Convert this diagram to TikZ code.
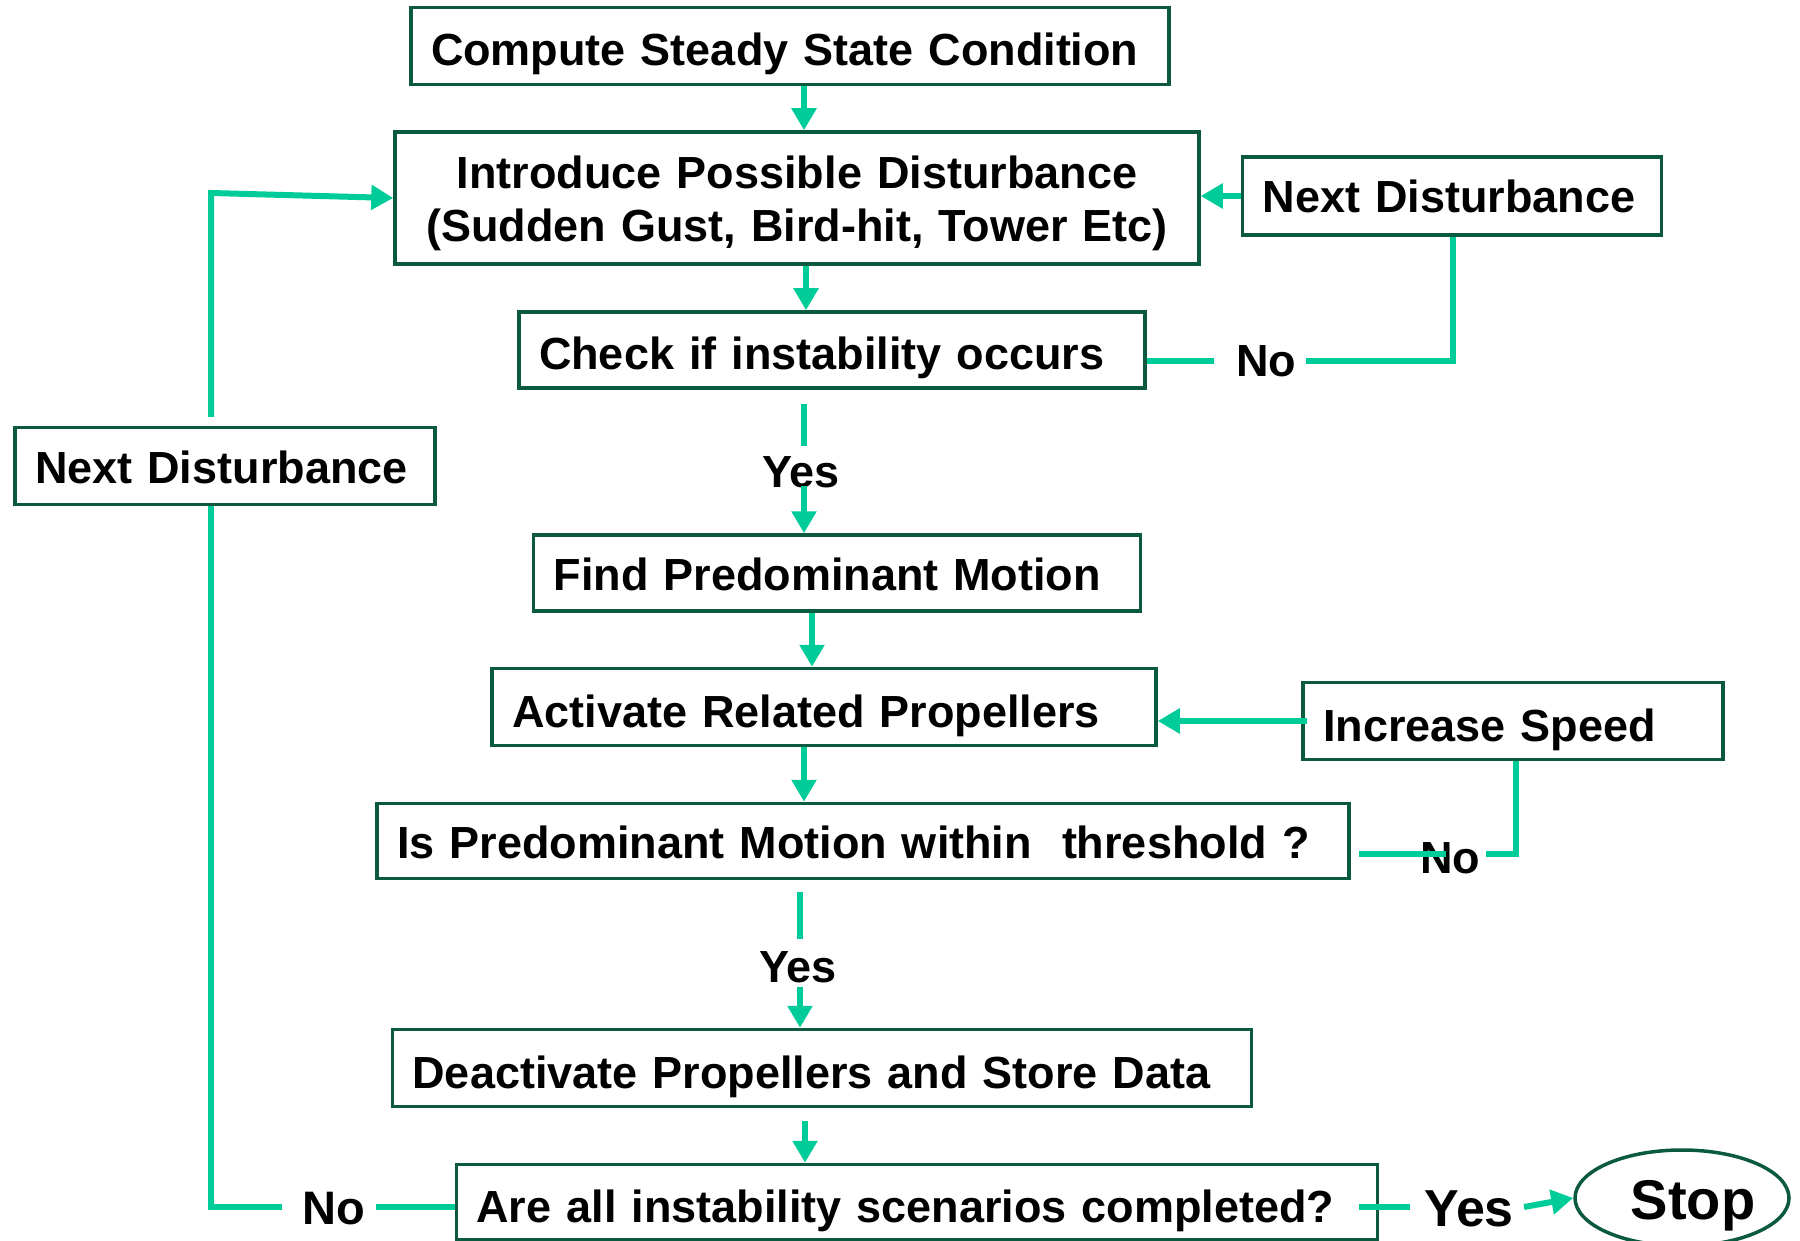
\documentclass[tikz,border=0pt]{standalone}
\usepackage{fontspec}
\setmainfont{Liberation Sans}
\usetikzlibrary{arrows.meta,shapes.geometric}
\definecolor{boxc}{HTML}{0B5A40}
\definecolor{arrc}{HTML}{00CC99}
\begin{document}
\begin{tikzpicture}[x=1pt,y=-1pt,
  box/.style={draw=boxc, line width=3.5pt, inner xsep=20pt, inner ysep=0pt, align=left,
    font=\fontsize{45}{53}\selectfont\bfseries, fill=white},
  tlow/.style={text height=44pt, text depth=4pt},
  tmid/.style={text height=40pt, text depth=6pt},
  lbl/.style={font=\fontsize{45}{52}\selectfont\bfseries, inner sep=0pt},
  conn/.style={draw=arrc, line width=6pt},
  arr/.style={conn, -{Triangle[length=22pt,width=24pt]}},
]
\useasboundingbox (0,0) rectangle (1800,1241);

% boxes
\node[box, tlow, text width=718pt, minimum height=77pt] (compute) at (790,46) {Compute Steady State Condition};
\node[box, text width=764pt, minimum height=132pt, align=center] (intro) at (797,198) {\rule{0pt}{43pt}Introduce Possible Disturbance\\(Sudden Gust, Bird-hit, Tower Etc)};
\node[box, tmid, text width=379pt, minimum height=78pt] (ndr) at (1452,196) {Next Disturbance};
\node[box, tlow, text width=586pt, minimum height=76pt] (check) at (832,350) {Check if instability occurs};
\node[box, tmid, text width=380pt, minimum height=77pt] (ndl) at (225,466) {Next Disturbance};
\node[box, tmid, text width=567pt, minimum height=76pt] (find) at (837,573) {Find Predominant Motion};
\node[box, tlow, text width=624pt, minimum height=77pt] (activate) at (824,707) {Activate Related Propellers};
\node[box, tlow, text width=380pt, minimum height=77pt] (incr) at (1513,721) {Increase Speed};
\node[box, tmid, text width=932pt, minimum height=75pt] (ispm) at (863,841) {Is Predominant Motion within \ threshold ?};
\node[box, tlow, text width=819pt, minimum height=77pt] (deact) at (822,1068) {Deactivate Propellers and Store Data};
\node[box, tlow, text width=881pt, minimum height=75pt] (areall) at (917,1202) {Are all instability scenarios completed?};
\node[draw=boxc, line width=3.5pt, ellipse, minimum width=214pt, minimum height=96pt, inner sep=0pt,
  font=\fontsize{56}{60}\selectfont\bfseries, text height=44pt, text depth=2pt] (stop) at (1682,1198) {\hspace*{22pt}Stop};

% labels
\node[lbl] (no1) at (1266,361) {No};
\node[lbl] (yes1) at (801,472) {Yes};
\node[lbl] (no2) at (1450,858) {No};
\node[lbl] (yes2) at (798,967) {Yes};
\node[lbl, font=\fontsize{47}{52}\selectfont\bfseries] (no3) at (334,1209) {No};
\node[lbl, font=\fontsize{52}{58}\selectfont\bfseries] (yes3) at (1469,1209) {Yes};

% column / bend coordinates
\coordinate (c1) at (804,0);
\coordinate (c2) at (806,0);
\coordinate (c3) at (804,0);
\coordinate (c4) at (812,0);
\coordinate (c5) at (804,0);
\coordinate (c6) at (800,0);
\coordinate (c7) at (805,0);
\coordinate (cl) at (211,0);
\coordinate (top) at (0,193);
\coordinate (r1) at (1453,0);
\coordinate (r2) at (1516,0);
\coordinate (yL) at (0,1207);
\coordinate (yN2) at (0,854);

% connectors
\draw[arr] (compute.south -| c1) -- (intro.north -| c1);
\draw[arr] (intro.south -| c2) -- (check.north -| c2);
\draw[arr] (ndr.west) -- (intro.east |- ndr.west);

\draw[conn] (check.east |- no1) -- ([xshift=-22pt]no1.west);
\draw[conn] ([xshift=10pt]no1.east) -- (r1 |- no1) -- (r1 |- ndr.south);

\draw[conn] ([yshift=-14pt]check.south -| c3) -- ([yshift=10pt]yes1.north -| c3);
\draw[arr] ([yshift=2pt]yes1.south -| c3) -- (find.north -| c3);

\draw[arr] (find.south -| c4) -- (activate.north -| c4);
\draw[arr] ([xshift=6pt]incr.west) -- (activate.east |- incr.west);
\draw[arr] (activate.south -| c5) -- (ispm.north -| c5);

\draw[conn] ([xshift=8pt]ispm.east |- yN2) -- ([xshift=26pt]no2.west |- yN2);
\draw[conn] ([xshift=6pt]no2.east |- yN2) -- (r2 |- yN2) -- (r2 |- incr.south);

\draw[conn] ([yshift=-12pt]ispm.south -| c6) -- ([yshift=12pt]yes2.north -| c6);
\draw[arr] ([yshift=-4pt]yes2.south -| c6) -- (deact.north -| c6);

\draw[arr] ([yshift=-13pt]deact.south -| c7) -- (areall.north -| c7);

\draw[conn] (areall.west |- yL) -- ([xshift=10pt]no3.east |- yL);
\draw[conn] ([xshift=-20pt]no3.west |- yL) -- (cl |- yL) -- (cl |- ndl.south);
\draw[arr] ([yshift=9pt]ndl.north -| cl) -- (cl |- top) -- (intro.west);

\draw[conn] ([xshift=-20pt]areall.east |- yL) -- ([xshift=-14pt]yes3.west |- yL);
\draw[arr] ([xshift=10pt,yshift=2pt]yes3.east) -- (stop.west);
\end{tikzpicture}
\end{document}
